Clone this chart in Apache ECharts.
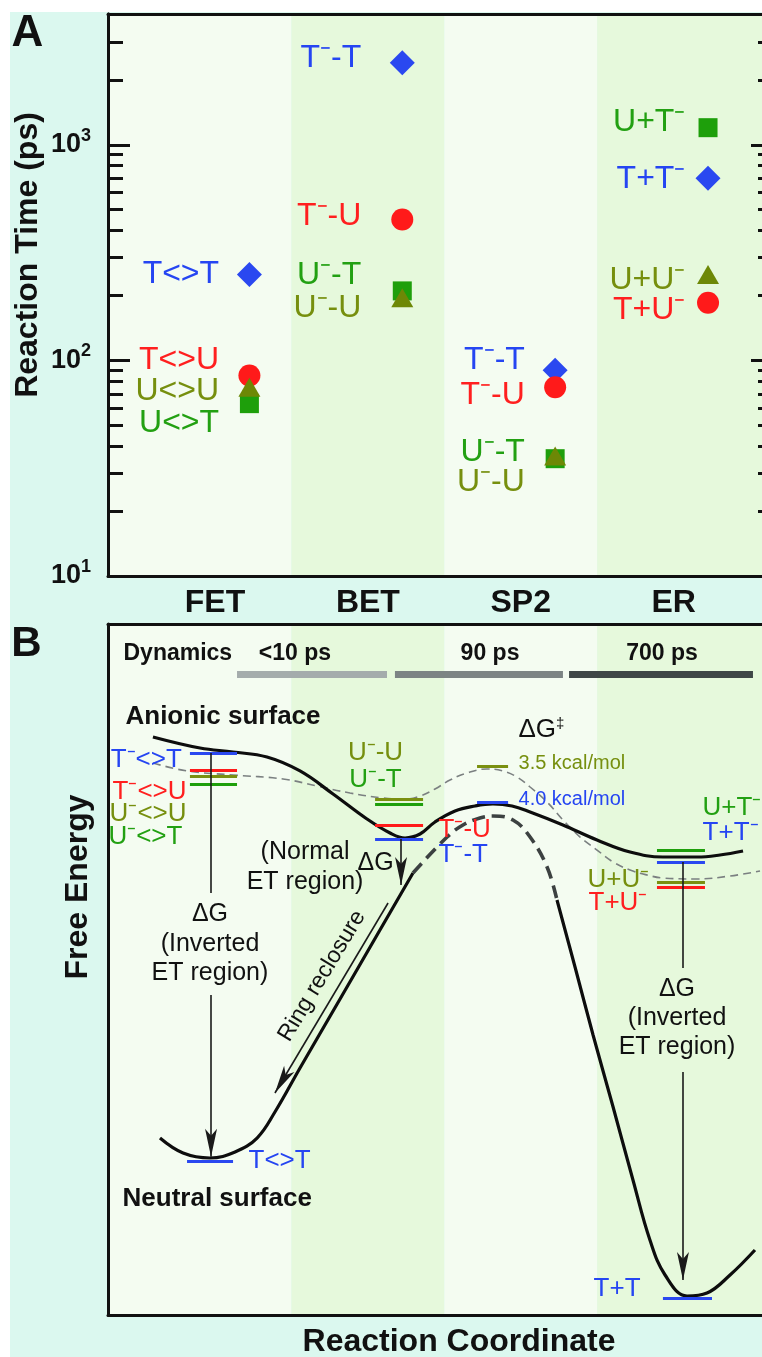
<!DOCTYPE html>
<html>
<head>
<meta charset="utf-8">
<title>Reaction times and free-energy profile</title>
<script src="https://cdn.jsdelivr.net/npm/echarts@6.0.0/dist/echarts.min.js"></script>
<style>
  html, body { margin: 0; padding: 0; background: #ffffff; }
  #chart { width: 762px; height: 1357px; }
</style>
</head>
<body>
<div id="chart"></div>
<script>
// ---------- Panel A: reaction times (ps) for each stage ----------
const stages = ['FET', 'BET', 'SP2', 'ER'];
const timeTT = [250, 2400, 90, 700];
const timeTU = [85, 450, 75, 185];
const timeUU = [75, 195, 36, 250];
const timeUT = [63, 210, 35, 1200];
const nameTT = ['T<>T', 'T⁻-T', 'T⁻-T', 'T+T⁻'];
const nameTU = ['T<>U', 'T⁻-U', 'T⁻-U', 'T+U⁻'];
const nameUU = ['U<>U', 'U⁻-U', 'U⁻-U', 'U+U⁻'];
const nameUT = ['U<>T', 'U⁻-T', 'U⁻-T', 'U+T⁻'];
const majorTicks = [10, 100, 1000];
const minorTicks = [20, 30, 40, 50, 60, 70, 80, 90, 200, 300, 400, 500, 600, 700, 800, 900, 2000, 3000];

// name tags: right edge on the stage axis, vertical centre in ps
const tagRight = [1.03, 1.96, 3.03, 4.08];
const tagTT = [252, 2530, 100, 694];
const tagTU = [100, 468, 69, 171];
const tagUU = [72, 175, 27.3, 236];
const tagUT = [51, 249, 37.6, 1276];

// ---------- Panel B: free-energy profile (reaction coordinate, energy in a.u.) ----------
const anionic = [
  [0.594, 8.365], [0.902, 8.205], [1.118, 8.148], [1.340, 8.075], [1.556, 7.873],
  [1.772, 7.540], [1.994, 7.178], [2.145, 6.975], [2.243, 6.903], [2.341, 6.961],
  [2.439, 7.135], [2.570, 7.294], [2.701, 7.366], [2.818, 7.395], [2.943, 7.366],
  [3.061, 7.279], [3.276, 7.091], [3.499, 6.874], [3.715, 6.700], [3.930, 6.628],
  [4.153, 6.628], [4.303, 6.657], [4.454, 6.715]
];
const anionicU = [
  [0.594, 7.988], [0.817, 7.873], [1.118, 7.815], [1.445, 7.757], [1.667, 7.656],
  [1.883, 7.554], [2.099, 7.482], [2.243, 7.467], [2.341, 7.511], [2.439, 7.612],
  [2.537, 7.742], [2.648, 7.844], [2.779, 7.902], [2.884, 7.873], [2.975, 7.786],
  [3.061, 7.641], [3.172, 7.424], [3.276, 7.164], [3.388, 6.917], [3.499, 6.729],
  [3.604, 6.556], [3.715, 6.440], [3.826, 6.368], [3.930, 6.324], [4.153, 6.310],
  [4.369, 6.353], [4.565, 6.425]
];
const neutralLeft = [
  [0.640, 2.561], [0.791, 2.344], [0.967, 2.272], [1.131, 2.359], [1.275, 2.561],
  [1.392, 2.938], [1.556, 3.575], [1.818, 4.573], [2.079, 5.572], [2.295, 6.397]
];
const neutralHump = [
  [2.295, 6.397], [2.518, 6.917], [2.622, 7.091], [2.733, 7.192], [2.818, 7.221],
  [2.949, 7.164], [3.061, 6.917], [3.172, 6.483], [3.237, 6.006]
];
const neutralRight = [
  [3.237, 6.006], [3.355, 5.036], [3.473, 4.052], [3.604, 3.010], [3.734, 1.954],
  [3.845, 1.085], [3.944, 0.579], [4.088, 0.275], [4.218, 0.318], [4.369, 0.579],
  [4.532, 0.941]
];
// level energies at FET, BET and ER
const levelTT = [8.133, 6.889, 6.556];
const levelTU = [7.887, 7.091, 6.194];
const levelUU = [7.800, 7.467, 6.266];
const levelUT = [7.685, 7.395, 6.729];
const neutralTT = [2.229, 0.246];          // T<>T and T+T minima
const barrierKcal = { UU: 3.5, TT: 4.0 };  // SP2 barriers
const energyPerKcal = 0.134;
const dynamicsLabels = ['<10 ps', '90 ps', '700 ps'];

// ---------- layout ----------
const levelSpans = [[0.836, 1.144], [2.047, 2.361], [3.891, 4.205]];
const barrierSpan = [2.714, 2.917];
const neutralSpans = [[0.817, 1.118], [3.930, 4.251]];
const dynSpans = [[1.144, 2.125], [2.177, 3.276], [3.316, 4.519]];
const dynY = 9.276;

const FONT = '"Liberation Sans", Arial, Helvetica, sans-serif';
const INK = '#111111';
const TXT = { blue: '#2545f2', red: '#ff1f1f', green: '#22a012', olive: '#768f0e' };
const MRK = { blue: '#2a48f0', red: '#ff1a1a', green: '#1e9f0b', olive: '#6d8806' };
const BAND_LIGHT = '#f4fcf1', BAND_GREEN = '#e6f9dc', PAGE = '#dbf8ef';
const X_MIN = 0.3, X_MAX = 4.65, MARK_SHIFT = 0.225;
const BANDS = [[X_MIN, 1.5, BAND_LIGHT], [1.5, 2.5, BAND_GREEN], [2.5, 3.5, BAND_LIGHT], [3.5, X_MAX, BAND_GREEN]];
const HIDDEN = { color: 'rgba(0,0,0,0)', opacity: 1 };

function bandArea() {
  return {
    silent: true,
    data: BANDS.map(b => [{ xAxis: b[0], itemStyle: { color: b[2], opacity: 1 } }, { xAxis: b[1] }])
  };
}

const frameLine = { show: true, onZero: false, lineStyle: { color: INK, width: 3 } };

function logAxis(position, ticks, len, withLabels) {
  return {
    gridIndex: 0, type: 'log', logBase: 10, min: 10, max: 4040, position, z: 10,
    axisLine: frameLine,
    axisTick: { show: true, inside: true, length: len, customValues: ticks, lineStyle: { color: INK, width: 3 } },
    axisLabel: withLabels ? {
      show: true, customValues: majorTicks, margin: 17,
      formatter: v => '{n|10}{s|' + Math.round(Math.log10(v)) + '}',
      rich: {
        n: { fontFamily: FONT, fontSize: 27, fontWeight: 'bold', color: INK, lineHeight: 36 },
        s: { fontFamily: FONT, fontSize: 18, fontWeight: 'bold', color: INK, lineHeight: 17, verticalAlign: 'top' }
      }
    } : { show: false },
    splitLine: { show: false }, minorTick: { show: false }
  };
}

function plainX(grid, position) {
  return {
    gridIndex: grid, type: 'value', min: X_MIN, max: X_MAX, position, z: 10,
    axisLine: frameLine, axisTick: { show: false }, axisLabel: { show: false }, splitLine: { show: false }
  };
}

function markers(name, values, symbol, size, color) {
  return {
    name, type: 'scatter', xAxisIndex: 0, yAxisIndex: 0, symbol, symbolSize: size,
    itemStyle: { color, opacity: 1 }, silent: true,
    data: values.map((v, i) => [i + 1 + MARK_SHIFT, v])
  };
}

function tags(names, ys, color) {
  return names.map((n, i) => ({ value: [tagRight[i], ys[i]], name: n, label: { color } }));
}

function note(text, x, y, o) {
  o = o || {};
  const pos = o.align === 'left' ? 'right' : (o.align === 'right' ? 'left' : 'inside');
  return {
    value: [x, y],
    label: {
      show: true, position: pos, distance: 0, formatter: () => text,
      color: o.color || INK, fontSize: o.size || 26, fontWeight: o.weight || 'normal',
      fontFamily: FONT, lineHeight: o.lh || undefined, rotate: o.rotate || 0,
      rich: o.rich || undefined
    }
  };
}

function seg(x1, y1, x2, y2, color, width, arrow) {
  const ls = { color, width, type: 'solid', cap: 'butt', opacity: 1 };
  return [
    { coord: [x1, y1], symbol: 'none', lineStyle: ls },
    { coord: [x2, y2], symbol: arrow ? 'arrow' : 'none', lineStyle: ls }
  ];
}

// energy levels
const levelLines = [];
const pairs = [[levelTT, MRK.blue], [levelTU, MRK.red], [levelUU, '#7a9010'], [levelUT, MRK.green]];
levelSpans.forEach((sp, s) => {
  pairs.forEach(([lv, col]) => levelLines.push(seg(sp[0], lv[s], sp[1], lv[s], col, 3)));
});
const barrierUU = levelUU[1] + barrierKcal.UU * energyPerKcal;
const barrierTT = levelTT[1] + barrierKcal.TT * energyPerKcal;
levelLines.push(seg(barrierSpan[0], barrierUU, barrierSpan[1], barrierUU, '#7a9010', 3));
levelLines.push(seg(barrierSpan[0], barrierTT, barrierSpan[1], barrierTT, MRK.blue, 3));
neutralSpans.forEach((sp, i) => levelLines.push(seg(sp[0], neutralTT[i], sp[1], neutralTT[i], MRK.blue, 3)));
const dynColors = ['#a4acac', '#7c8484', '#3f4747'];
dynSpans.forEach((sp, i) => levelLines.push(seg(sp[0], dynY, sp[1], dynY, dynColors[i], 7)));

// ΔG arrows and ring-reclosure arrow
const ARROW = '#1a1a1a';
const arrowLines = [
  seg(0.974, levelTT[0], 0.974, 6.107, ARROW, 1.6, false),
  seg(0.974, 4.631, 0.974, 2.29, ARROW, 1.6, true),
  seg(2.217, levelTT[1], 2.217, 6.223, ARROW, 1.6, true),
  seg(4.061, levelTT[2], 4.061, 5.022, ARROW, 1.6, false),
  seg(4.061, 3.517, 4.061, 0.507, ARROW, 1.6, true),
  seg(2.132, 5.962, 1.392, 3.213, ARROW, 1.6, true)
];

const supDagger = { dg: { fontFamily: FONT, fontSize: 15, color: INK, lineHeight: 14, verticalAlign: 'top' } };
const notesB = [
  note('Dynamics', 0.398, 9.565, { align: 'left', size: 23, weight: 'bold' }),
  note(dynamicsLabels[0], 1.523, 9.565, { size: 23, weight: 'bold' }),
  note(dynamicsLabels[1], 2.799, 9.565, { size: 23, weight: 'bold' }),
  note(dynamicsLabels[2], 3.924, 9.565, { size: 23, weight: 'bold' }),
  note('Anionic surface', 0.411, 8.654, { align: 'left', weight: 'bold' }),
  note('Neutral surface', 0.392, 1.679, { align: 'left', weight: 'bold' }),
  note('T⁻<>T', 0.786, 8.032, { align: 'right', color: TXT.blue }),
  note('T⁻<>U', 0.817, 7.569, { align: 'right', color: TXT.red }),
  note('U⁻<>U', 0.817, 7.250, { align: 'right', color: TXT.olive }),
  note('U⁻<>T', 0.790, 6.918, { align: 'right', color: TXT.green }),
  note('ΔG\n(Inverted\nET region)', 0.967, 5.369, { size: 25, lh: 29.5 }),
  note('U⁻-U', 2.05, 8.133, { color: TXT.olive }),
  note('U⁻-T', 2.05, 7.742, { color: TXT.green }),
  note('T⁻-U', 2.459, 7.019, { align: 'left', color: TXT.red }),
  note('T⁻-T', 2.459, 6.657, { align: 'left', color: TXT.blue }),
  note('ΔG', 2.050, 6.534, { size: 25 }),
  note('(Normal\nET region)', 1.589, 6.483, { size: 25, lh: 30 }),
  note('ΔG{dg|‡}', 2.982, 8.466, { align: 'left', size: 26, lh: 28, rich: supDagger }),
  note(barrierKcal.UU.toFixed(1) + ' kcal/mol', 2.982, barrierUU + 0.05, { align: 'left', size: 20, color: TXT.olive }),
  note(barrierKcal.TT.toFixed(1) + ' kcal/mol', 2.982, barrierTT + 0.03, { align: 'left', size: 20, color: TXT.blue }),
  note('U+T⁻', 4.186, 7.337, { align: 'left', color: TXT.green }),
  note('T+T⁻', 4.186, 6.975, { align: 'left', color: TXT.blue }),
  note('U+U⁻', 3.433, 6.295, { align: 'left', color: TXT.olive }),
  note('T+U⁻', 3.440, 5.962, { align: 'left', color: TXT.red }),
  note('ΔG\n(Inverted\nET region)', 4.022, 4.298, { size: 25, lh: 29 }),
  note('T<>T', 1.216, 2.229, { align: 'left', color: TXT.blue }),
  note('T+T', 3.473, 0.376, { align: 'left', color: TXT.blue }),
  note('Ring reclosure', 1.700, 4.906, { size: 23, rotate: 59 })
];

function curve(data, style) {
  return {
    type: 'line', xAxisIndex: 2, yAxisIndex: 4, data, smooth: 0.4, symbol: 'none',
    showSymbol: false, silent: true, lineStyle: Object.assign({ opacity: 1 }, style), z: 3
  };
}

const chart = echarts.init(document.getElementById('chart'), null, { renderer: 'canvas' });
chart.setOption({
  animation: false,
  backgroundColor: '#ffffff',
  textStyle: { fontFamily: FONT },
  grid: [
    { left: 108, top: 14, width: 665, height: 562, containLabel: false, outerBoundsMode: 'none' },
    { left: 108, top: 624, width: 665, height: 691, containLabel: false, outerBoundsMode: 'none' }
  ],
  xAxis: [
    Object.assign(plainX(0, 'bottom'), {
      axisLabel: {
        show: true, customValues: [1, 2, 3, 4], margin: 11,
        formatter: v => stages[Math.round(v) - 1],
        fontFamily: FONT, fontSize: 32, fontWeight: 'bold', color: INK
      }
    }),
    plainX(0, 'top'),
    plainX(1, 'bottom'),
    plainX(1, 'top')
  ],
  yAxis: [
    logAxis('left', majorTicks, 22, true),
    logAxis('left', minorTicks, 15, false),
    logAxis('right', majorTicks, 22, false),
    logAxis('right', minorTicks, 15, false),
    {
      gridIndex: 1, type: 'value', min: 0, max: 10, position: 'left', z: 10,
      axisLine: frameLine, axisTick: { show: false }, axisLabel: { show: false }, splitLine: { show: false }
    }
  ],
  graphic: [
    { type: 'rect', z: -100, silent: true, shape: { x: 10, y: 12, width: 752, height: 1345 }, style: { fill: PAGE } },
    { type: 'text', x: 27.5, y: 34, silent: true,
      style: { text: 'A', fill: INK, font: 'bold 44px ' + FONT, align: 'center', verticalAlign: 'middle', textAlign: 'center', textVerticalAlign: 'middle' } },
    { type: 'text', x: 26.5, y: 644, silent: true,
      style: { text: 'B', fill: INK, font: 'bold 42px ' + FONT, align: 'center', verticalAlign: 'middle', textAlign: 'center', textVerticalAlign: 'middle' } },
    { type: 'text', x: 28, y: 255, rotation: Math.PI / 2, silent: true,
      style: { text: 'Reaction Time (ps)', fill: INK, font: 'bold 32px ' + FONT, align: 'center', verticalAlign: 'middle', textAlign: 'center', textVerticalAlign: 'middle' } },
    { type: 'text', x: 78, y: 887, rotation: Math.PI / 2, silent: true,
      style: { text: 'Free Energy', fill: INK, font: 'bold 32px ' + FONT, align: 'center', verticalAlign: 'middle', textAlign: 'center', textVerticalAlign: 'middle' } },
    { type: 'text', x: 459, y: 1342, silent: true,
      style: { text: 'Reaction Coordinate', fill: INK, font: 'bold 32px ' + FONT, align: 'center', verticalAlign: 'middle', textAlign: 'center', textVerticalAlign: 'middle' } }
  ],
  series: [
    // panel A background bands
    { type: 'scatter', xAxisIndex: 0, yAxisIndex: 0, data: [], silent: true, markArea: bandArea(), z: 1 },
    markers('T-T', timeTT, 'diamond', 25, MRK.blue),
    markers('T-U', timeTU, 'circle', 22, MRK.red),
    markers('U-T', timeUT, 'rect', 19, MRK.green),
    markers('U-U', timeUU, 'triangle', [22, 19], MRK.olive),
    {
      type: 'scatter', xAxisIndex: 0, yAxisIndex: 0, symbolSize: 1, silent: true,
      itemStyle: HIDDEN,
      label: { show: true, position: 'left', distance: 0, formatter: '{b}', fontFamily: FONT, fontSize: 32 },
      data: [].concat(tags(nameTT, tagTT, TXT.blue), tags(nameTU, tagTU, TXT.red),
                      tags(nameUU, tagUU, TXT.olive), tags(nameUT, tagUT, TXT.green))
    },
    // panel B background bands
    { type: 'scatter', xAxisIndex: 2, yAxisIndex: 4, data: [], silent: true, markArea: bandArea(), z: 1 },
    curve(anionicU, { color: '#7b8081', width: 1.6, type: [8, 5] }),
    curve(anionic, { color: '#0d0d0d', width: 3.2 }),
    curve(neutralLeft, { color: '#0d0d0d', width: 3.2 }),
    curve(neutralHump, { color: '#3c4141', width: 3.6, type: [13, 7] }),
    curve(neutralRight, { color: '#0d0d0d', width: 3.2 }),
    {
      type: 'scatter', xAxisIndex: 2, yAxisIndex: 4, data: [], silent: true, z: 4,
      markLine: { silent: true, symbol: 'none', label: { show: false }, data: levelLines }
    },
    {
      type: 'scatter', xAxisIndex: 2, yAxisIndex: 4, data: [], silent: true, z: 4,
      markLine: { silent: true, symbol: ['none', 'arrow'], symbolSize: [9, 28], label: { show: false }, data: arrowLines }
    },
    {
      type: 'scatter', xAxisIndex: 2, yAxisIndex: 4, symbolSize: 1, silent: true, z: 5,
      itemStyle: HIDDEN, data: notesB
    }
  ]
});
</script>
</body>
</html>
